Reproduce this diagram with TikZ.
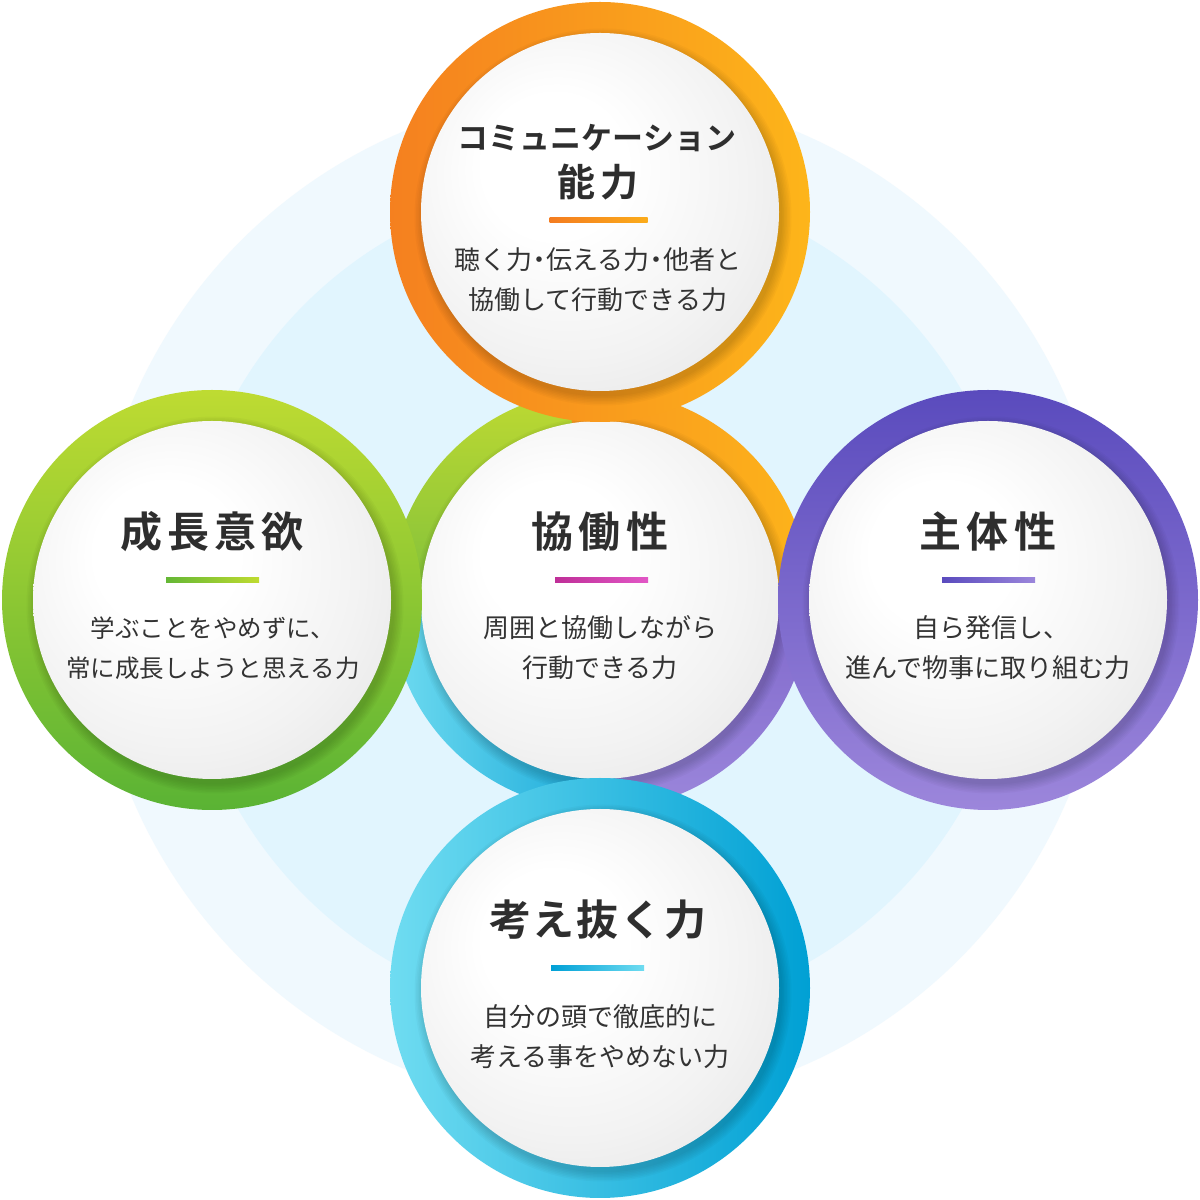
\documentclass[tikz,border=0pt]{standalone}
\usepackage{fontspec}
\newfontfamily\jp[BoldFont={Noto Sans CJK JP Bold}]{Noto Sans CJK JP}
\definecolor{bgA}{RGB}{240,249,254}
\definecolor{bgB}{RGB}{225,245,254}
\definecolor{txt}{HTML}{333333}
\definecolor{ttlc}{HTML}{2E2E2E}
% center ring colours
\definecolor{cOrA}{HTML}{F8961F}
\definecolor{cOrB}{HTML}{FDB41A}
\definecolor{cGrA}{HTML}{BDD932}
\definecolor{cGrB}{HTML}{7FC03B}
\definecolor{cCyA}{HTML}{6FDBF0}
\definecolor{cCyB}{HTML}{11A5D8}
\definecolor{cPuA}{HTML}{7F68CB}
\definecolor{cPuB}{HTML}{9B86DB}
% outer rings
\definecolor{oOrA}{HTML}{F5801F}
\definecolor{oOrB}{HTML}{FDB51A}
\definecolor{oGrA}{HTML}{BEDB32}
\definecolor{oGrB}{HTML}{5AB334}
\definecolor{oPuA}{HTML}{5A4BBD}
\definecolor{oPuB}{HTML}{9C86DB}
\definecolor{oCyA}{HTML}{6FDCF1}
\definecolor{oCyB}{HTML}{00A0D4}
% bars
\definecolor{bOrA}{HTML}{F47C20}
\definecolor{bOrB}{HTML}{FBAC1B}
\definecolor{bGrA}{HTML}{64B735}
\definecolor{bGrB}{HTML}{BFDB30}
\definecolor{bMgA}{HTML}{BF2F98}
\definecolor{bMgB}{HTML}{E257C6}
\definecolor{bPuA}{HTML}{5A4BBE}
\definecolor{bPuB}{HTML}{9B86DB}
\definecolor{bCyA}{HTML}{00A0D6}
\definecolor{bCyB}{HTML}{6FDCF1}

\pgfdeclareradialshading{diskshade}{\pgfpoint{-8bp}{8bp}}{color(0bp)=(white); color(10bp)=(white); color(25bp)=(black!5); color(36bp)=(black!10); color(50bp)=(black!10)}

\newcommand\dshadow[2]{\foreach \k in {1,...,7}{\fill[black,opacity=0.022] (#1+3,#2-5) circle[radius={178+1.5*\k}];}}
\newcommand\ttlnode[5][42pt]{%
  \node[ttl, font=\jp\bfseries\fontsize{#1}{#1}\selectfont] (#2) at (#3,#4) {#5};}

\tikzset{
  body/.style={font=\jp\fontsize{26pt}{30pt}\selectfont, text=txt, inner sep=0pt, outer sep=0pt},
  bodys/.style={font=\jp\fontsize{24.5pt}{30pt}\selectfont, text=txt, inner sep=0pt, outer sep=0pt},
  ttl/.style={text=ttlc, inner sep=0pt, outer sep=0pt},
  disk/.style={circle, minimum size=358pt, inner sep=0pt, outer sep=0pt, shade, shading=diskshade},
}

\begin{document}
\begin{tikzpicture}[x=1pt,y=1pt]
\useasboundingbox (0,0) rectangle (1200,1200);
\fill[white] (0,0) rectangle (1200,1200);
% background halos
\fill[bgA] (600,600) circle[radius=508];
\fill[bgB] (600,600) circle[radius=418];

% ---- centre ring, four coloured sectors
\shade[left color=cOrA, right color=cOrB] (600,600) -- ++(-1:210) arc[start angle=-1,end angle=100,radius=210] -- cycle;
\shade[top color=cGrA, bottom color=cGrB] (600,600) -- ++(99:210) arc[start angle=99,end angle=181,radius=210] -- cycle;
\shade[left color=cCyA, right color=cCyB] (600,600) -- ++(180:210) arc[start angle=180,end angle=276,radius=210] -- cycle;
\shade[top color=cPuA, bottom color=cPuB] (600,600) -- ++(275:210) arc[start angle=275,end angle=360,radius=210] -- cycle;
\dshadow{600}{600}
\node[disk] (dc) at (600,600) {};

% ---- top ring
\shade[left color=oOrA, right color=oOrB] (600,988) circle[radius=210];
\dshadow{600}{988}
\node[disk] (dt) at (600,988) {};
% ---- left ring
\shade[top color=oGrA, bottom color=oGrB] (212,600) circle[radius=210];
\dshadow{212}{600}
\node[disk] (dl) at (212,600) {};
% ---- right ring
\shade[top color=oPuA, bottom color=oPuB] (988,600) circle[radius=210];
\dshadow{988}{600}
\node[disk] (dr) at (988,600) {};
% ---- bottom ring
\shade[left color=oCyA, right color=oCyB] (600,212) circle[radius=210];
\dshadow{600}{212}
\node[disk] (db) at (600,212) {};

% ---- texts: centre
\ttlnode{ct}{600}{668}{協\kern6pt働\kern6pt性}
\shade[left color=bMgA, right color=bMgB] (555,617.5) rectangle (648,622.5);
\node[body] (cl1) at (600,572) {周囲と協働しながら};
\node[body] (cl2) at (600,532) {行動できる力};

% ---- top
\ttlnode[31pt]{tt1}{597}{1062}{コミュニケーション}
\ttlnode[38pt]{tt2}{598}{1018}{能\kern6pt力}
\shade[left color=bOrA, right color=bOrB] (549.5,977.5) rectangle (647.5,982.5);
\node[body] (tl1) at (598,940) {聴く力\kern-6pt・\kern-6pt伝える力\kern-6pt・\kern-6pt他者と};
\node[body] (tl2) at (598,900) {協働して行動できる力};

% ---- left
\ttlnode{lt}{212}{668}{成\kern5pt長\kern5pt意\kern5pt欲}
\shade[left color=bGrA, right color=bGrB] (166,617.5) rectangle (259,622.5);
\node[bodys] (ll1) at (213,572) {学ぶことをやめずに、};
\node[bodys] (ll2) at (213,532) {常に成長しようと思える力};

% ---- right
\ttlnode{rt}{988}{668}{主\kern6pt体\kern6pt性}
\shade[left color=bPuA, right color=bPuB] (942,617.5) rectangle (1035,622.5);
\node[body] (rl1) at (991,572) {自ら発信し、};
\node[body] (rl2) at (988,532) {進んで物事に取り組む力};

% ---- bottom
\ttlnode{bt}{598}{280}{考\kern2pt え\kern2pt 抜\kern2pt く\kern2pt 力}
\shade[left color=bCyA, right color=bCyB] (551,229.5) rectangle (644,234.5);
\node[body] (bl1) at (600,183) {自分の頭で徹底的に};
\node[body] (bl2) at (600,143) {考える事をやめない力};
\end{tikzpicture}
\end{document}
